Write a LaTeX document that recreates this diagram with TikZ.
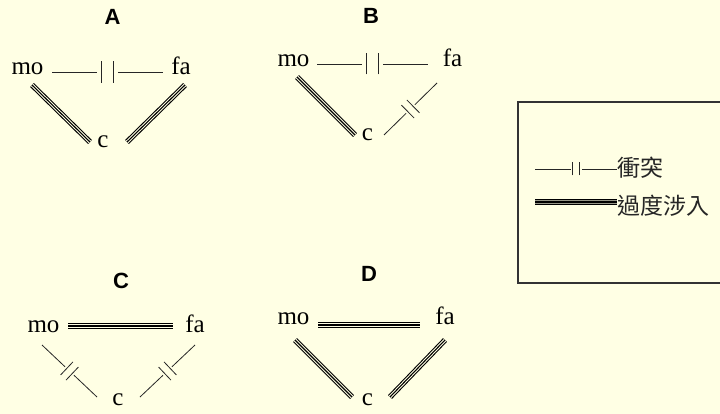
\documentclass[tikz,border=0pt]{standalone}
\usepackage{fontspec}
\setmainfont{Liberation Serif}
\newfontfamily\headfont{Liberation Sans}
\newfontfamily\cjk{Noto Sans CJK TC}
\usepackage{tikz}
\usetikzlibrary{decorations.markings}
\usetikzlibrary{calc}
\definecolor{bg}{RGB}{255,255,228}
\definecolor{midgray}{RGB}{150,150,135}

\begin{document}
\begin{tikzpicture}[x=1pt,y=-1pt,
		who/.style={font=\fontsize{25}{30}\selectfont, inner sep=0pt, text height=17pt, text depth=5pt},
		head/.style={font=\headfont\bfseries\fontsize{22}{26}\selectfont, inner sep=0pt},
		note/.style={font=\cjk\fontsize{23}{27}\selectfont, inner sep=0pt, anchor=west, text=black!85},
		tri/.style={draw=black, line width=5.4pt, postaction={draw=#1, line width=3.2pt}, postaction={draw=black, line width=1.1pt}},
		tri/.default=bg,
		conflict/.style n args={3}{draw=black!85, line width=0.8pt, postaction={decorate}, decoration={markings,
				mark=at position 0.5 with {\fill[bg] (-#1,-2pt) rectangle (#1,2pt);
					\draw[black!85, line width=0.8pt] (-#2,-#3) -- (-#2,#3) (#2,-#3) -- (#2,#3);}}}
	]
	\useasboundingbox (0,0) rectangle (720,414);
	\fill[bg] (0,0) rectangle (720,414);
	
	% A
	\node[head] (tA) at (112.5,16.5) {A};
	\node[who] (moA) at (27.5,69) {mo};
	\node[who] (faA) at (181,69) {fa};
	\node[who] (cA) at (103,142) {c};
	\draw[conflict={10.5pt}{6pt}{11pt}] ([shift={(24.5,3)}]moA.center) -- ([shift={(-18,3)}]faA.center);
	\draw[tri] ([shift={(4.5,16)}]moA.center) -- ([shift={(-13,0)}]cA.center);
	\draw[tri] ([shift={(24,0)}]cA.center) -- ([shift={(4,16)}]faA.center);
	
	% B
	\node[head] (tB) at (371,16) {B};
	\node[who] (moB) at (293.5,61) {mo};
	\node[who] (faB) at (452.5,61) {fa};
	\node[who] (cB) at (367.5,135) {c};
	\draw[conflict={10.5pt}{6pt}{10.5pt}] ([shift={(23.5,3)}]moB.center) -- ([shift={(-24.5,3)}]faB.center);
	\draw[tri] ([shift={(3.5,16)}]moB.center) -- ([shift={(-12.5,0)}]cB.center);
	\draw[conflict={6pt}{3.75pt}{9pt}] ([shift={(16.5,0)}]cB.center) -- ([shift={(-15.5,22)}]faB.center);
	
	% C
	\node[head] (tC) at (121,281) {C};
	\node[who] (moC) at (43.5,326) {mo};
	\node[who] (faC) at (195,326) {fa};
	\node[who] (cC) at (118,399) {c};
	\draw[tri] ([shift={(24.5,0)}]moC.center) -- ([shift={(-22,0)}]faC.center);
	\draw[conflict={6pt}{3.75pt}{9pt}] ([shift={(-1.5,19)}]moC.center) -- ([shift={(-21,-2)}]cC.center);
	\draw[conflict={6pt}{3.75pt}{9pt}] ([shift={(22,-2)}]cC.center) -- ([shift={(0,19)}]faC.center);
	
	% D
	\node[head] (tD) at (369,274) {D};
	\node[who] (moD) at (293.5,318) {mo};
	\node[who] (faD) at (445,318) {fa};
	\node[who] (cD) at (367.5,399) {c};
	\draw[tri] ([shift={(24.5,7)}]moD.center) -- ([shift={(-25,7)}]faD.center);
	\draw[tri] ([shift={(1.5,22)}]moD.center) -- ([shift={(-15.5,-2)}]cD.center);
	\draw[tri] ([shift={(22.5,-2)}]cD.center) -- ([shift={(0,22)}]faD.center);
	
	% legend
	\draw[black!80, line width=1.2pt] (518,102) rectangle (726,283);
	\node[note] (conf) at (617,168) {衝突};
	\node[note] (over) at (617,206) {過度涉入};
	\coordinate (confL) at (535,169);
	\coordinate (overL) at (535,202);
	\draw[conflict={5.5pt}{3.5pt}{6.5pt}] (confL) -- ([yshift=-1pt]conf.west);
	\draw[tri=midgray] (overL) -- ([yshift=4pt]over.west);
\end{tikzpicture}
\end{document}
